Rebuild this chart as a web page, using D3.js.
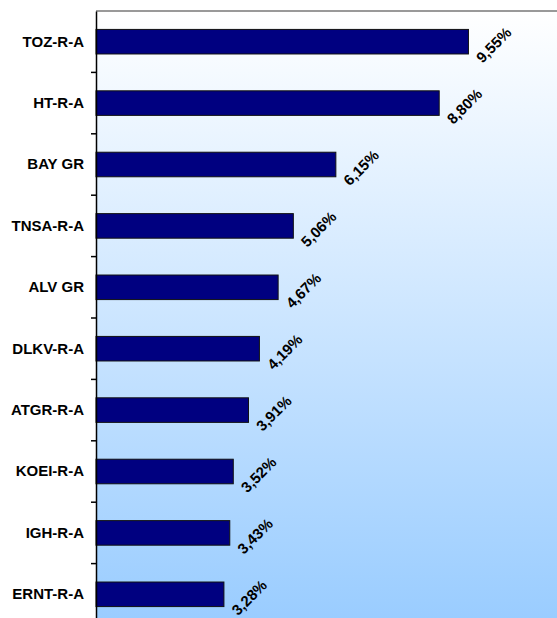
<!DOCTYPE html>
<html>
<head>
<meta charset="utf-8">
<script src="https://d3js.org/d3.v7.min.js"></script>
<style>
  body { margin: 0; background: #fff; }
  svg { display: block; font-family: "Liberation Sans", Arial, sans-serif; }
</style>
</head>
<body>
<svg width="557" height="618"></svg>
<script>
var categories = ["TOZ-R-A", "HT-R-A", "BAY GR", "TNSA-R-A", "ALV GR", "DLKV-R-A", "ATGR-R-A", "KOEI-R-A", "IGH-R-A", "ERNT-R-A"];
var values = [9.55, 8.80, 6.15, 5.06, 4.67, 4.19, 3.91, 3.52, 3.43, 3.28];
var labels = ["9,55%", "8,80%", "6,15%", "5,06%", "4,67%", "4,19%", "3,91%", "3,52%", "3,43%", "3,28%"];

var margin = {top: 11, left: 96},
    width = 557 - margin.left,
    height = 614;

var svg = d3.select("svg");

var defs = svg.append("defs");
var grad = defs.append("linearGradient")
    .attr("id", "bg").attr("x1", 0).attr("y1", 0).attr("x2", 0).attr("y2", 1);
grad.append("stop").attr("offset", "0%").attr("stop-color", "#ffffff");
grad.append("stop").attr("offset", "100%").attr("stop-color", "#99ccff");

var g = svg.append("g")
    .attr("transform", "translate(" + margin.left + "," + margin.top + ")");

g.append("rect")
    .attr("width", width)
    .attr("height", height)
    .attr("fill", "url(#bg)");

// top border
g.append("line")
    .attr("x1", 0).attr("x2", width)
    .attr("y1", 0).attr("y2", 0)
    .attr("stroke", "#999").attr("stroke-width", 2);

var x = d3.scaleLinear()
    .domain([0, 12])
    .range([0, 12 * 39]);

var y = d3.scaleBand()
    .domain(categories)
    .range([0, height])
    .paddingInner(0.6)
    .paddingOuter(0.3);

// Bars
g.selectAll("rect.bar")
    .data(values)
    .enter()
    .append("rect")
        .attr("class", "bar")
        .attr("x", x(0))
        .attr("y", function(d, i) { return y(categories[i]); })
        .attr("width", function(d) { return x(d); })
        .attr("height", y.bandwidth())
        .attr("fill", "#000080")
        .attr("stroke", "#111")
        .attr("stroke-width", 1);

// value labels
g.selectAll("text.val")
    .data(values)
    .enter()
    .append("text")
        .attr("class", "val")
        .attr("transform", function(d, i) {
            var tx = x(d) + 14, ty = y(categories[i]) + y.bandwidth() / 2 + 22;
            return "translate(" + tx + "," + ty + ")rotate(-45)";
        })
        .attr("font-size", 15)
        .attr("font-weight", "bold")
        .attr("fill", "#000")
        .text(function(d, i) { return labels[i]; });

// Y axis
var yAxis = g.append("g")
    .call(d3.axisLeft(y).tickSize(0).tickPadding(12));
yAxis.select(".domain").attr("stroke", "#000").attr("stroke-width", 1.5);
yAxis.selectAll("text")
    .attr("font-size", 15)
    .attr("font-weight", "bold")
    .attr("font-family", "Liberation Sans, Arial, sans-serif")
    .attr("fill", "#000");

// tick marks between categories
g.selectAll("line.tick-sep")
    .data(categories.slice(1))
    .enter()
    .append("line")
        .attr("class", "tick-sep")
        .attr("x1", -5).attr("x2", 0)
        .attr("y1", function(d) { return y(d) - y.step() * 0.3; })
        .attr("y2", function(d) { return y(d) - y.step() * 0.3; })
        .attr("stroke", "#000")
        .attr("stroke-width", 1.5);
</script>
</body>
</html>
